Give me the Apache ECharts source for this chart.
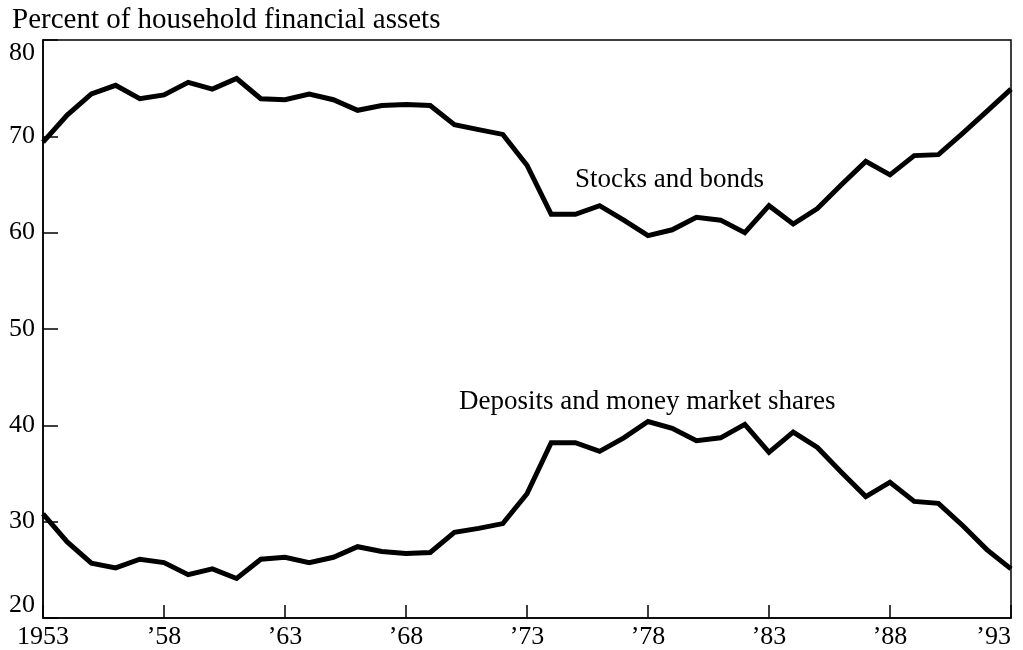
<!DOCTYPE html>
<html>
<head>
<meta charset="utf-8">
<script src="https://cdn.jsdelivr.net/npm/echarts@6/dist/echarts.min.js"></script>
<style>
  html, body { margin: 0; padding: 0; background: #fff; }
  #main { width: 1023px; height: 650px; }
</style>
</head>
<body>
<div id="main"></div>
<script>
// years 1953..1993
const years = [1953, 1954, 1955, 1956, 1957, 1958, 1959, 1960, 1961, 1962,
  1963, 1964, 1965, 1966, 1967, 1968, 1969, 1970, 1971, 1972,
  1973, 1974, 1975, 1976, 1977, 1978, 1979, 1980, 1981, 1982,
  1983, 1984, 1985, 1986, 1987, 1988, 1989, 1990, 1991, 1992, 1993];
const stocksBonds = [69.4, 72.2, 74.4, 75.3, 73.9, 74.3, 75.6, 74.9, 76.0, 73.9,
  73.8, 74.4, 73.8, 72.7, 73.2, 73.3, 73.2, 71.2, 70.7, 70.2,
  67.0, 61.9, 61.9, 62.8, 61.3, 59.7, 60.3, 61.6, 61.3, 60.0,
  62.8, 60.9, 62.5, 65.0, 67.4, 66.0, 68.0, 68.1, 70.3, 72.6, 74.9];
const deposits = [30.8, 27.9, 25.7, 25.2, 26.1, 25.75, 24.5, 25.1, 24.1, 26.1,
  26.3, 25.75, 26.3, 27.4, 26.9, 26.7, 26.8, 28.9, 29.3, 29.8,
  32.9, 38.2, 38.2, 37.3, 38.7, 40.4, 39.7, 38.4, 38.7, 40.1,
  37.2, 39.3, 37.7, 35.1, 32.6, 34.1, 32.1, 31.9, 29.6, 27.1, 25.1];
const yTicks = [20, 30, 40, 50, 60, 70, 80];

const font = "'Liberation Serif', 'DejaVu Serif', serif";

function pairs(vals) {
  return years.map((y, i) => [y, vals[i]]);
}

let chart = echarts.init(document.getElementById("main"));
let option = {
  backgroundColor: "#fff",
  animation: false,
  title: {
    text: "Percent of household financial assets",
    left: 7,
    top: 1,
    textStyle: { fontFamily: font, fontSize: 29, fontWeight: "normal", color: "#000" }
  },
  grid: {
    left: 43, right: 12, top: 40, bottom: 32,
    outerBoundsMode: "none",
    containLabel: false,
    show: true, borderColor: "#000", borderWidth: 1.5
  },
  xAxis: {
    type: "value",
    min: 1953, max: 1993, interval: 5,
    axisLine: { show: true, lineStyle: { color: "#000", width: 1.5 } },
    axisTick: { show: true, inside: true, length: 13, lineStyle: { color: "#000", width: 1.5 } },
    splitLine: { show: false },
    axisLabel: {
      color: "#000", fontFamily: font, fontSize: 26, margin: 6,
      alignMaxLabel: "right",
      formatter: v => v === 1953 ? "1953" : "\u2019" + String(v).slice(2)
    }
  },
  yAxis: {
    type: "value",
    min: yTicks[0], max: yTicks[yTicks.length - 1], interval: 10,
    axisLine: { show: true, lineStyle: { color: "#000", width: 1.5 } },
    axisTick: { show: true, inside: true, length: 15, lineStyle: { color: "#000", width: 1.5 } },
    splitLine: { show: false },
    axisLabel: {
      color: "#000", fontFamily: font, fontSize: 26, margin: 8,
      verticalAlignMinLabel: "bottom",
      verticalAlignMaxLabel: "top"
    }
  },
  graphic: [
    {
      type: "text", left: 575, top: 166,
      style: { text: "Stocks and bonds", font: "27px " + font, fill: "#000" }
    },
    {
      type: "text", left: 459, top: 388,
      style: { text: "Deposits and money market shares", font: "27px " + font, fill: "#000" }
    }
  ],
  series: [
    {
      name: "Stocks and bonds",
      type: "line",
      data: pairs(stocksBonds),
      symbol: "none",
      lineStyle: { color: "#000", width: 5, join: "miter" }
    },
    {
      name: "Deposits and money market shares",
      type: "line",
      data: pairs(deposits),
      symbol: "none",
      lineStyle: { color: "#000", width: 5, join: "miter" }
    }
  ]
};
chart.setOption(option);
window.addEventListener("resize", chart.resize);
</script>
</body>
</html>
